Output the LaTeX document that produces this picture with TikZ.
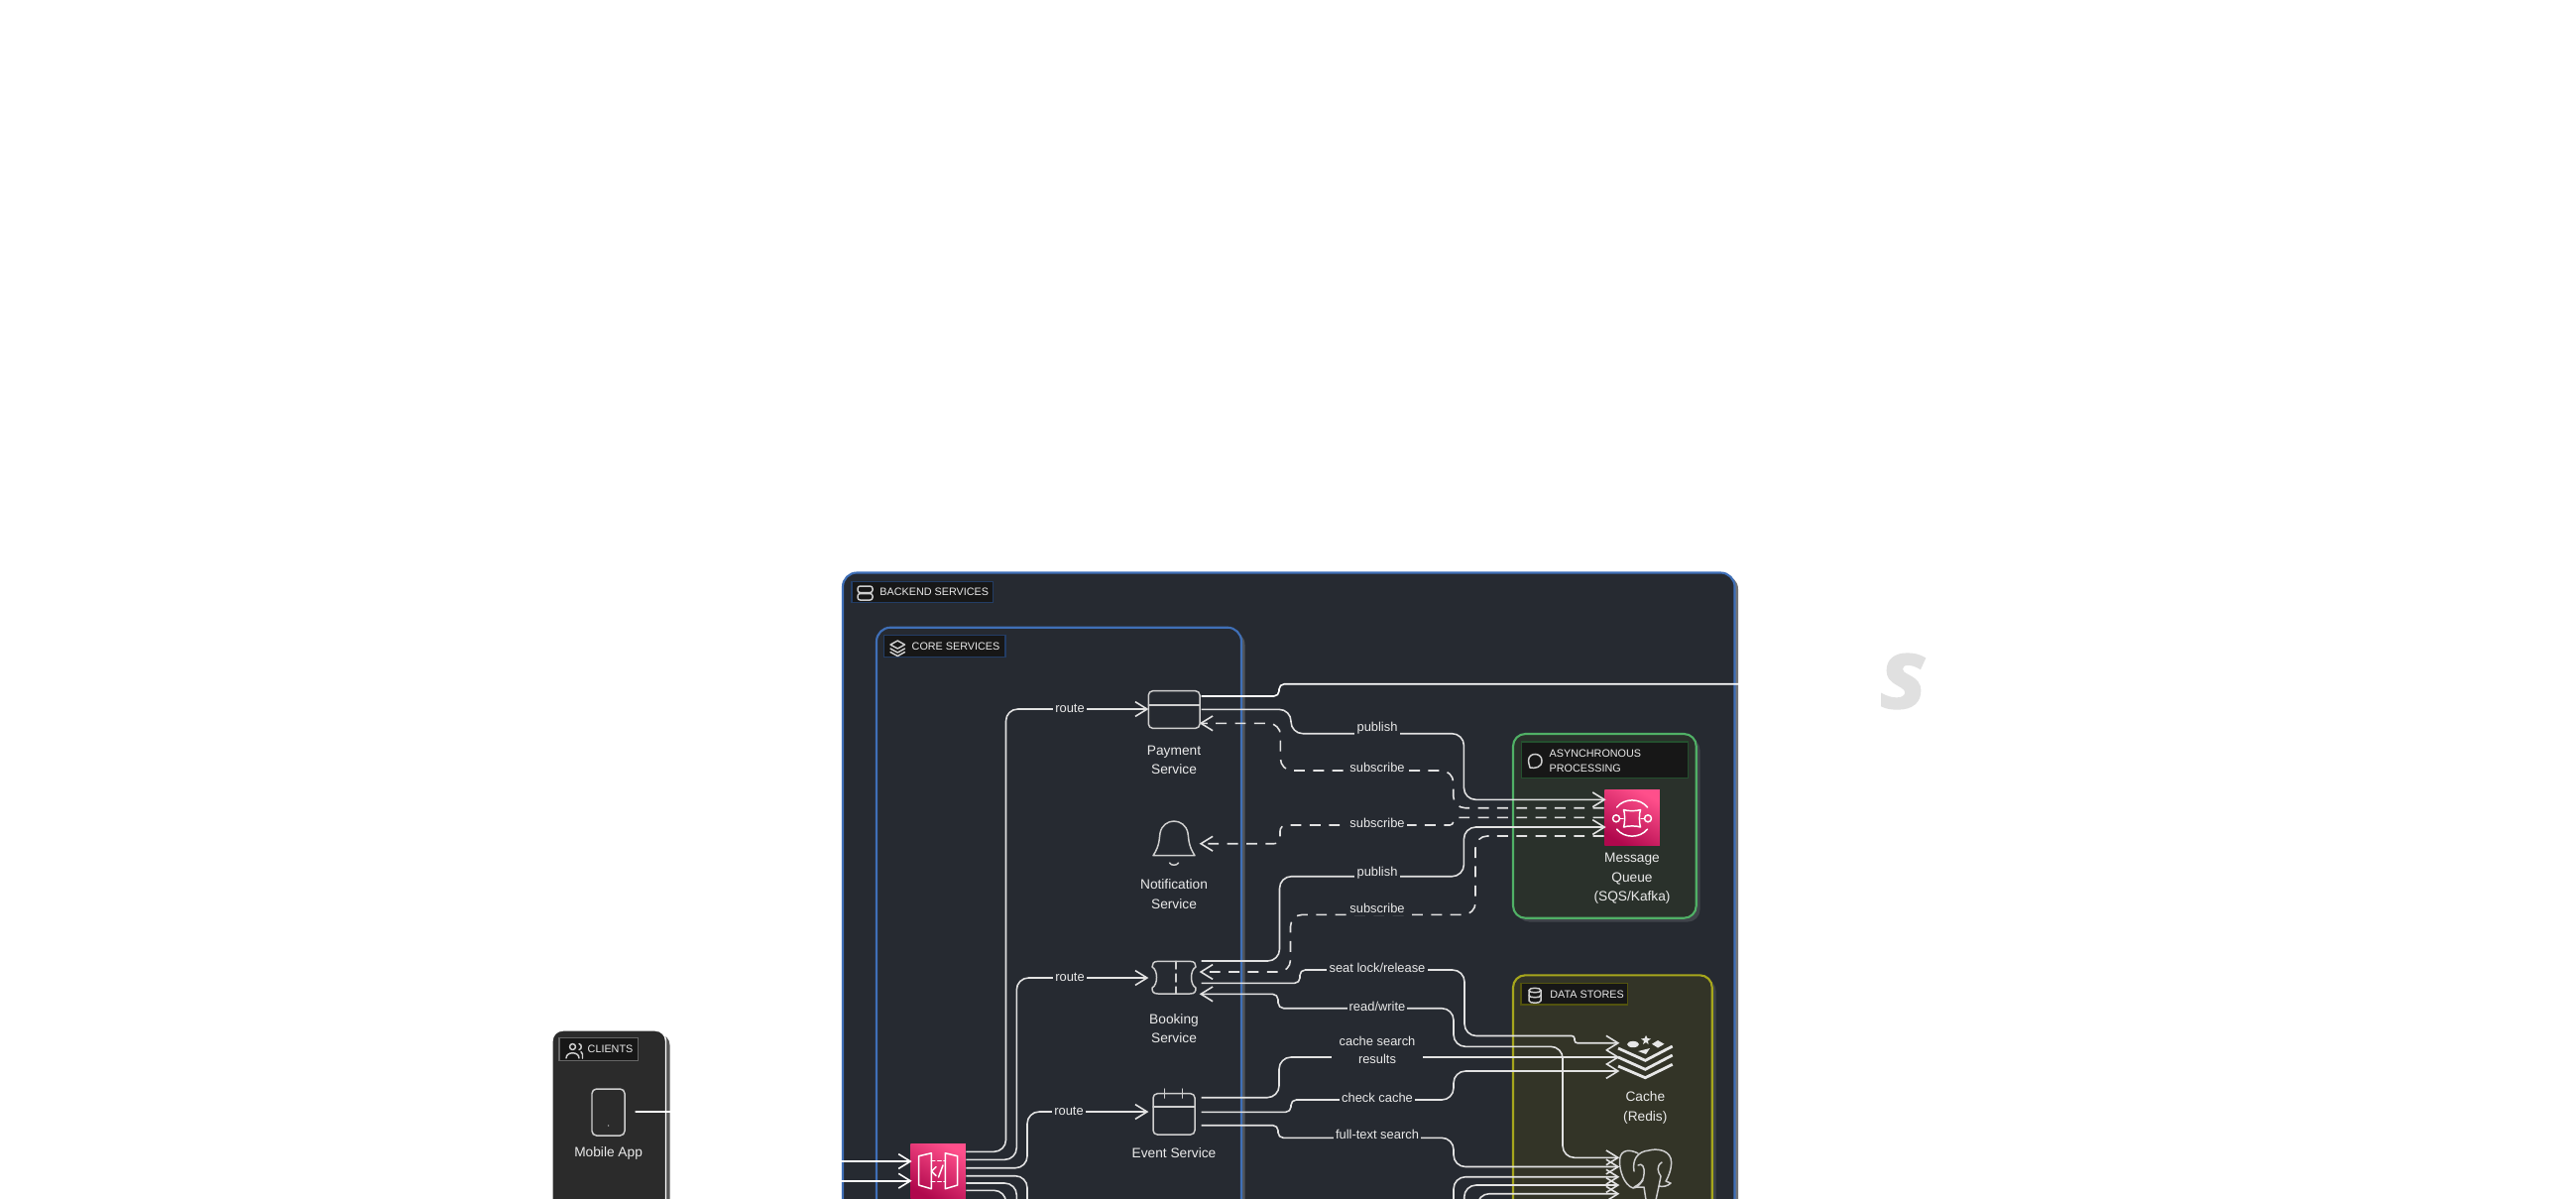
\documentclass[tikz,border=0pt]{standalone}
\usepackage{fontspec}
\setmainfont{Liberation Sans}
\newfontfamily\wmfont{Open Sans}[BoldItalicFeatures={FakeBold=1.6}]
\usetikzlibrary{arrows.meta}
\definecolor{backbg}{HTML}{262A31}
\definecolor{backline}{HTML}{3F6FB7}
\definecolor{linec}{HTML}{E2E2E2}
\definecolor{iconc}{HTML}{CFCFCF}
\definecolor{txtc}{HTML}{EAEAEA}
\definecolor{lblbg}{HTML}{171717}
\definecolor{asyncbg}{HTML}{2A312B}
\definecolor{asyncline}{HTML}{50B066}
\definecolor{databg}{HTML}{333427}
\definecolor{dataline}{HTML}{A6A61C}
\definecolor{clientbg}{HTML}{2B2B2B}
\definecolor{pinktop}{HTML}{FF4F8B}
\definecolor{pinkbot}{HTML}{B0084D}
\definecolor{wmgray}{HTML}{E0E0E0}
\tikzset{
  conn/.style={draw=linec,line width=.45pt,rounded corners=3.4pt},
  tipend/.style={-{Straight Barb[length=3.4pt,width=4.2pt]},shorten >=-.6pt},
  tipboth/.style={{Straight Barb[length=3.4pt,width=4.2pt]}-{Straight Barb[length=3.4pt,width=4.2pt]},shorten >=-.6pt,shorten <=-.6pt},
  dashline/.style={dash pattern=on 3.1pt off 2.4pt},
  svc/.style={minimum width=.54cm,minimum height=.54cm,inner sep=0pt},
  txt/.style={text=txtc,align=center,inner sep=0pt,font=\fontsize{3.9}{5.46}\selectfont},
  elab/.style={text=txtc,align=center,fill=backbg,inner xsep=.6pt,inner ysep=.5pt,font=\fontsize{3.67}{5.1}\selectfont},
  glab/.style={text=txtc,align=left,anchor=west,inner sep=0pt,font=\fontsize{3.07}{4.27}\selectfont},
  gbox/.style={fill=lblbg,line width=.35pt,inner sep=0pt},
  icong/.style={draw=iconc,line width=.42pt,line join=round,line cap=round},
  iconw/.style={draw=white,line width=.42pt,line join=round,line cap=round},
  awsbox/.style={minimum width=.555cm,minimum height=.555cm,inner sep=0pt,shading=axis,top color=pinktop,bottom color=pinkbot,shading angle=-30},
}
\begin{document}
\begin{tikzpicture}[x=0.01cm,y=-0.01cm]
\path[use as bounding box] (0,0) rectangle (2598,1208);
\clip (0,0) rectangle (2598,1208);
\fill[white] (0,0) rectangle (2598,1208);
% watermark
\node[text=wmgray,inner sep=0pt,font=\wmfont\bfseries\itshape\fontsize{28}{28}\selectfont] (wm) at (1920,687) {s};
% clients group
\fill[rounded corners=3pt,fill=black!65] (561,1043) rectangle (675.5,1300);
\draw[rounded corners=3pt,fill=clientbg,draw=white,line width=.4pt] (557,1039) rectangle (671.5,1300);
\node[gbox,draw=black!60,minimum width=.795cm,minimum height=.223cm] (clientBox) at (603.8,1058) {};
\node[glab] (clientLbl) at (592,1058) {CLIENTS};
% backend group
\fill[rounded corners=4pt,fill=black!55] (853,580) rectangle (1753,1300);
\draw[rounded corners=4pt,fill=backbg,draw=backline,line width=.6pt] (850,577.5) rectangle (1749.5,1300);
\node[gbox,draw=backline!55!black,minimum width=1.427cm,minimum height=.217cm] (backBox) at (930.3,597) {};
\node[glab] (backLbl) at (886.7,597) {BACKEND SERVICES};
% core group
\fill[rounded corners=4pt,fill=white!20!backbg] (887,636) rectangle (1255.5,1300);
\draw[rounded corners=4pt,fill=backbg,draw=backline,line width=.6pt] (884,632.7) rectangle (1252,1300);
\node[gbox,draw=backline!55!black,minimum width=1.223cm,minimum height=.22cm] (coreBox) at (952.8,651.7) {};
\node[glab] (coreLbl) at (919,652) {CORE SERVICES};
% async group
\fill[rounded corners=3.5pt,fill=white!12!backbg] (1530,744) rectangle (1714.5,929.5);
\draw[rounded corners=3.5pt,fill=asyncbg,draw=asyncline,line width=.6pt] (1526,740) rectangle (1710.7,925.7);
\node[gbox,draw=asyncline!45!black,minimum width=1.68cm,minimum height=.367cm] (asyncBox) at (1618.3,766.4) {};
\node[glab] (asyncLbl) at (1562,767) {ASYNCHRONOUS\\PROCESSING};
% data group
\fill[rounded corners=3.5pt,fill=white!12!backbg] (1530,987) rectangle (1730.5,1300);
\draw[rounded corners=3.5pt,fill=databg,draw=dataline,line width=.6pt] (1526,983.3) rectangle (1726.7,1300);
\node[gbox,draw=dataline!50!black,minimum width=1.077cm,minimum height=.213cm] (dataBox) at (1587.9,1002.3) {};
\node[glab] (dataLbl) at (1562.7,1002.7) {DATA STORES};
% service anchor nodes
\node[svc] (pay) at (1184,715) {};
\node[svc] (notif) at (1184,850) {};
\node[svc] (book) at (1184,986) {};
\node[svc] (event) at (1184,1121) {};
\node[svc,minimum width=.547cm] (redis) at (1659.3,1066) {};
\node[svc,minimum width=.547cm] (pg) at (1659.3,1185) {};
\node[svc,minimum width=.33cm,minimum height=.47cm] (mobile) at (613.6,1121.5) {};
\node[awsbox] (gw) at (946,1181) {};
\node[awsbox] (mq) at (1646,824.7) {};
% free ends
\coordinate (offRight) at (1760,689.7);
\coordinate (webIn) at (700,1190.7);
\coordinate (offA) at (1466,1300);
\coordinate (offB) at (1476.7,1300);
\coordinate (offC) at (1490,1300);
\coordinate (gwD) at (1036,1300);
\coordinate (gwE) at (1025.3,1300);
\coordinate (gwF) at (1014.5,1300);
% client connectors
\draw[conn,white,tipend] (640.7,1121) -- (760,1121) -- (760,1171) -- (gw.west |- 0,1171);
\draw[conn,white,tipend] (webIn) -- (gw.west |- 0,1190.7);
% gateway connectors
\draw[conn,tipend] (gw.east |- 0,1161.3) -- (1014.5,1161.3) -- (1014.5,715) -- (pay.west |- 0,715);
\draw[conn,tipend] (gw.east |- 0,1169.3) -- (1025.3,1169.3) -- (1025.3,986) -- (book.west |- 0,986);
\draw[conn,tipend] (gw.east |- 0,1177.7) -- (1036,1177.7) -- (1036,1121) -- (event.west |- 0,1121);
\draw[conn] (gw.east |- 0,1185.7) -- (1036,1185.7) -- (gwD);
\draw[conn] (gw.east |- 0,1193) -- (1025.3,1193) -- (gwE);
\draw[conn] (gw.east |- 0,1200.3) -- (1014.5,1200.3) -- (gwF);
% payment
\draw[conn,draw=white] (pay.east |- 0,702) [rounded corners=1.5pt] -- (1290,702) -- (1290,689.7) -- (1330,689.7) [rounded corners=3.4pt] -- (offRight);
\draw[conn,tipend] (pay.east |- 0,715.3) -- (1302,715.3) -- (1302,739.7) -- (1476.4,739.7) -- (1476.4,806.3) -- (mq.west |- 0,806.3);
\draw[conn,tipend,dashline] (mq.west |- 0,814.7) -- (1465.7,814.7) -- (1465.7,777) -- (1291.4,777) -- (1291.4,729.3) -- (pay.east |- 0,729.3);
% notification
\draw[conn,tipend,dashline] (mq.west |- 0,824.3) [rounded corners=1pt] -- (1465.7,824.3) -- (1465.7,832) -- (1420,832) [rounded corners=1.7pt] -- (1291,832) -- (1291,850.7) -- (notif.east |- 0,850.7);
% booking
\draw[conn,tipend] (book.east |- 0,969) -- (1290.5,969) -- (1290.5,883.7) -- (1476.4,883.7) -- (1476.4,834) -- (mq.west |- 0,834);
\draw[conn,tipend,dashline] (mq.west |- 0,843) -- (1488,843) -- (1488,922.3) -- (1301.5,922.3) -- (1301.5,980) -- (book.east |- 0,980);
\draw[conn,tipend] (book.east |- 0,991.3) [rounded corners=1.5pt] -- (1311,991.3) -- (1311,978) -- (1345,978) [rounded corners=3.4pt] -- (1477,978) -- (1477,1044.5) -- (1540,1044.5) [rounded corners=.8pt] -- (1588,1044.5) -- (1588,1051.7) -- (redis.west |- 0,1051.7);
\draw[conn,tipboth] (pg.west |- 0,1167.3) -- (1576,1167.3) -- (1576,1055.3) -- (1466,1055.3) -- (1466,1016.7) -- (1350,1016.7) [rounded corners=1.6pt] -- (1289,1016.7) -- (1289,1002.3) -- (book.east |- 0,1002.3);
% event
\draw[conn,tipend] (event.east |- 0,1106.7) -- (1290,1106.7) -- (1290,1066) -- (redis.west |- 0,1066);
\draw[conn,tipend] (event.east |- 0,1121.3) [rounded corners=1.5pt] -- (1302,1121.3) -- (1302,1109) -- (1340,1109) [rounded corners=3.4pt] -- (1466,1109) -- (1466,1080) -- (redis.west |- 0,1080);
\draw[conn,tipend] (event.east |- 0,1134.7) [rounded corners=1.5pt] -- (1289,1134.7) -- (1289,1147.3) -- (1330,1147.3) [rounded corners=3.4pt] -- (1466,1147.3) -- (1466,1176.5) -- (pg.west |- 0,1176.5);
% lower lines to postgres
\draw[conn,tipend] (offA) -- (1466,1186.7) -- (pg.west |- 0,1186.7);
\draw[conn,tipend] (offB) -- (1476.7,1195) -- (pg.west |- 0,1195);
\draw[conn,tipend] (offC) -- (1490,1203.7) -- (pg.west |- 0,1203.7);
% edge labels
\node[elab] (rP) at (1079,714) {route};
\node[elab] (rB) at (1079,985) {route};
\node[elab] (rE) at (1078,1120) {route};
\node[elab] (pubA) at (1389,734) {publish};
\node[elab] (subA) at (1389,774) {subscribe};
\node[elab] (subB) at (1389,830) {subscribe};
\node[elab] (pubB) at (1389,880) {publish};
\node[elab] (subC) at (1389,916.3) {subscribe};
\node[elab] (seat) at (1389,976) {seat lock/release};
\node[elab] (rw) at (1389,1015) {read/write};
\node[elab,inner xsep=2.1pt] (cs) at (1389,1058.7) {cache search\\results};
\node[elab] (cc) at (1389,1107) {check cache};
\node[elab] (fts) at (1389,1144) {full-text search};
% node texts
\node[txt] (mobT) at (613.6,1163) {Mobile App};
\node[txt] (payT) at (1184,766.4) {Payment\\Service};
\node[txt] (notT) at (1184,901.6) {Notification\\Service};
\node[txt] (bookT) at (1184,1037.2) {Booking\\Service};
\node[txt] (evT) at (1184,1162.7) {Event Service};
\node[txt] (mqT) at (1646,885.7) {Message\\Queue\\(SQS/Kafka)};
\node[txt] (redT) at (1659.3,1117) {Cache\\(Redis)};
% group icons
\draw[icong,rounded corners=.7pt] (865,591) rectangle (880,597.5);
\draw[icong,rounded corners=.7pt] (865,598.5) rectangle (880,605);
\draw[icong] (905.3,646) -- (912.5,650) -- (905.3,654) -- (898,650) -- cycle;
\draw[icong] (898,654) -- (905.3,658) -- (912.5,654);
\draw[icong] (898,657.5) -- (905.3,661.5) -- (912.5,657.5);
\draw[icong] (577.5,1055.5) circle (.85pt);
\draw[icong] (571,1067) .. controls (571,1060) and (584,1060) .. (584,1067);
\draw[icong] (584,1052.5) .. controls (587,1053) and (587,1058) .. (584,1058.5);
\draw[icong] (586,1060.5) .. controls (588,1061.5) and (587.5,1064) .. (587.5,1067);
\draw[icong] (1543,774) .. controls (1542,770) and (1541.5,769) .. (1541.5,767) .. controls (1541.5,758) and (1555,758.5) .. (1555,767) .. controls (1555,774) and (1548,775) .. (1543,774) -- cycle;
\draw[icong] (1542,998.5) .. controls (1542,995.5) and (1554,995.5) .. (1554,998.5) -- (1554,1009) .. controls (1554,1012) and (1542,1012) .. (1542,1009) -- cycle;
\draw[icong] (1542,998.5) .. controls (1542,1001.5) and (1554,1001.5) .. (1554,998.5);
\draw[icong] (1542,1003.5) .. controls (1542,1006.5) and (1554,1006.5) .. (1554,1003.5);
% phone
\draw[icong,rounded corners=1.3pt] (597,1098) rectangle (630,1145);
\fill[iconc] (613.6,1135) circle (.2pt);
% payment icon
\draw[icong,rounded corners=1.2pt] (1158.3,696.7) rectangle (1210,734.3);
\draw[icong] (1158.3,711) -- (1210,711);
% bell
\draw[icong] (1163,862.7) -- (1205,862.7) .. controls (1198,852) and (1199,845) .. (1198,840) .. controls (1195,824) and (1173,824) .. (1170,840) .. controls (1169,845) and (1170,852) .. (1163,862.7) -- cycle;
\draw[icong] (1179.5,870) .. controls (1181,873) and (1187,873) .. (1188.5,870);
% ticket
\draw[icong] (1168,969.3) -- (1200,969.3) .. controls (1205,969.3) and (1206,972) .. (1206,975) .. controls (1200,978) and (1200,993) .. (1206,996) .. controls (1206,1000) and (1205,1002) .. (1200,1002) -- (1168,1002) .. controls (1163,1002) and (1162,1000) .. (1162,996) .. controls (1168,993) and (1168,978) .. (1162,975) .. controls (1162,972) and (1163,969.3) .. (1168,969.3) -- cycle;
\draw[icong] (1186,969.3) -- (1186,977);
\draw[icong] (1186,982) -- (1186,990);
\draw[icong] (1186,995) -- (1186,1002);
% calendar
\draw[icong,rounded corners=1.2pt] (1163,1102.7) rectangle (1205,1144);
\draw[icong] (1163,1116) -- (1205,1116);
\draw[icong] (1174.7,1098) -- (1174.7,1107);
\draw[icong] (1192.7,1098) -- (1192.7,1107);
% api gateway icon
\draw[iconw] (926.7,1165.7) -- (939.3,1162.7) -- (939.3,1198.7) -- (926.7,1195) -- cycle;
\draw[iconw] (965.7,1165.7) -- (953.3,1162.7) -- (953.3,1198.7) -- (965.7,1195) -- cycle;
\draw[iconw,dash pattern=on 1pt off .8pt] (939.3,1170.7) -- (953.3,1170.7);
\draw[iconw,dash pattern=on 1pt off .8pt] (939.3,1191.7) -- (953.3,1191.7);
\draw[iconw] (944,1176.5) -- (939.5,1181) -- (944,1185.5);
\draw[iconw] (951,1175) -- (946.5,1187);
% sqs icon
\draw[iconw] (1630.5,814) .. controls (1638,804.5) and (1654,804.5) .. (1661.5,814);
\draw[iconw] (1630.5,836) .. controls (1638,845.5) and (1654,845.5) .. (1661.5,836);
\draw[iconw] (1630,825.3) circle (1pt);
\draw[iconw] (1662,825.3) circle (1pt);
\draw[iconw] (1637.5,816.5) .. controls (1641,818) and (1651,818) .. (1654.5,816.5) .. controls (1653,820) and (1653,830) .. (1654.5,834) .. controls (1651,832.5) and (1641,832.5) .. (1637.5,834) .. controls (1639,830) and (1639,820) .. (1637.5,816.5) -- cycle;
\draw[iconw] (1633.5,825.3) -- (1637,825.3);
\draw[iconw] (1655,825.3) -- (1658.5,825.3);
% redis icon
\draw[draw=iconc!50!white,line width=.8pt,line join=miter] (1632,1057) -- (1659.3,1069.3) -- (1686.7,1055);
\draw[draw=iconc!50!white,line width=.8pt,line join=miter] (1632,1066) -- (1659.3,1078.3) -- (1686.7,1064);
\draw[draw=iconc!50!white,line width=.8pt,line join=miter] (1632,1075) -- (1659.3,1086.7) -- (1686.7,1073.3);
\fill[iconc!50!white] (1647,1053) ellipse (1.7pt and .9pt);
\fill[iconc!50!white] (1666,1052.7) -- (1672,1049) -- (1678.5,1052.7) -- (1672,1056.5) -- cycle;
\fill[iconc!50!white] (1660,1044) -- (1661.5,1047) -- (1665,1047.5) -- (1662,1049.5) -- (1662.5,1053) -- (1660,1051) -- (1657,1053) -- (1658,1049.5) -- (1655,1047.5) -- (1658.5,1047) -- cycle;
\fill[iconc!50!white] (1652,1060) -- (1664,1057) -- (1660,1063) -- cycle;
% postgres elephant
\draw[icong] (1652,1163) .. controls (1645,1159) and (1634,1158) .. (1633.5,1170) .. controls (1633,1180) and (1638,1195) .. (1647,1198) .. controls (1651,1198) and (1654,1194) .. (1657,1190);
\draw[icong] (1648,1181) .. controls (1646,1170) and (1651,1161) .. (1663,1160) .. controls (1670,1158) and (1682,1159) .. (1685,1168) .. controls (1687,1176) and (1683,1186) .. (1680,1191) -- (1685,1193) .. controls (1682,1196) and (1677,1197) .. (1673,1196) -- (1670,1210);
\draw[icong] (1652,1175) .. controls (1656,1172) and (1659,1177) .. (1658,1184) .. controls (1658,1190) and (1654,1194) .. (1648,1197) -- (1658,1197) -- (1660,1210);
\draw[icong] (1676,1172) .. controls (1670,1176) and (1672,1182) .. (1675,1186) -- (1673,1196);
\end{tikzpicture}
\end{document}
